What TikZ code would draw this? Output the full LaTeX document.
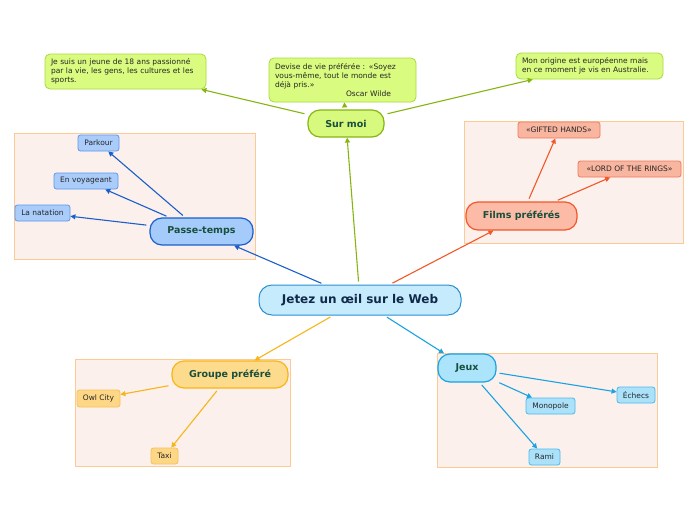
\documentclass[tikz,border=0pt]{standalone}
\usepackage{fontspec}
\setmainfont{DejaVu Sans}
\usetikzlibrary{arrows.meta}

\definecolor{rootfill}{HTML}{C6EBFC}
\definecolor{rootline}{HTML}{2A8FD3}
\definecolor{roottext}{HTML}{10284A}
\definecolor{topictext}{HTML}{184E3C}
\definecolor{notefill}{HTML}{D9FB7F}
\definecolor{noteline}{HTML}{A9D93C}
\definecolor{moifill}{HTML}{D7F97D}
\definecolor{moiline}{HTML}{86B512}
\definecolor{passefill}{HTML}{A5CBFB}
\definecolor{passeline}{HTML}{1B5FCB}
\definecolor{passeleaf}{HTML}{A9CCFB}
\definecolor{passeleafline}{HTML}{5D97E8}
\definecolor{filmsfill}{HTML}{FBBBA6}
\definecolor{filmsline}{HTML}{F2572A}
\definecolor{filmsleaf}{HTML}{F8B5A0}
\definecolor{filmsleafline}{HTML}{EE7A5C}
\definecolor{groupefill}{HTML}{FDDB8C}
\definecolor{groupeline}{HTML}{F7B519}
\definecolor{groupeleaf}{HTML}{FDD785}
\definecolor{groupeleafline}{HTML}{F5C25A}
\definecolor{jeuxfill}{HTML}{ABE4FB}
\definecolor{jeuxline}{HTML}{1AA2E3}
\definecolor{jeuxleaf}{HTML}{ABE2FA}
\definecolor{jeuxleafline}{HTML}{4DB8EA}
\definecolor{boxfill}{HTML}{FCF0EC}
\definecolor{boxline}{HTML}{FCCB94}

\begin{document}
\begin{tikzpicture}[x=1pt,y=-1pt]

% Define block styles
\tikzstyle{root} = [rectangle, rounded corners=13pt, minimum width=202pt, minimum height=30pt, inner sep=0pt, draw=rootline, fill=rootfill, line width=1pt, text=roottext, font=\fontsize{12}{14}\selectfont\bfseries]
\tikzstyle{topic} = [rectangle, rounded corners=12pt, minimum height=27pt, inner sep=0pt, line width=1.2pt, text=topictext, font=\fontsize{9.5}{11}\selectfont\bfseries]
\tikzstyle{leaf} = [rectangle, rounded corners=2.5pt, minimum height=16pt, inner sep=0pt, line width=0.8pt, text=black!85, font=\fontsize{7.5}{9}\selectfont]
\tikzstyle{note} = [rectangle, rounded corners=5pt, inner xsep=6pt, inner ysep=0pt, align=left, fill=notefill, draw=noteline, line width=0.8pt, text=black!85, font=\fontsize{7.5}{9}\selectfont]
\tikzstyle{groupbox} = [fill=boxfill, draw=boxline, line width=1pt]
\tikzstyle{arrow} = [line width=1.1pt, shorten <=3pt, -{Triangle[length=5pt,width=5pt]}]

\useasboundingbox (0,0) rectangle (696,520);

% Group frames
\draw [groupbox] (14,133) rectangle (255,259);
\draw [groupbox] (464,121) rectangle (683,243);
\draw [groupbox] (75,359) rectangle (290,466);
\draw [groupbox] (437,353) rectangle (657,467);

% Define nodes
\node (web) [root] at (360,300) {Jetez un œil sur le Web};
\node (surmoi) [topic, minimum width=76pt, fill=moifill, draw=moiline] at (346,123.5) {Sur moi};
\node (passe) [topic, minimum width=103pt, fill=passefill, draw=passeline] at (201.5,231.5) {Passe-temps};
\node (films) [topic, minimum width=111pt, minimum height=28pt, fill=filmsfill, draw=filmsline] at (521.5,216) {Films préférés};
\node (groupe) [topic, minimum width=116pt, fill=groupefill, draw=groupeline] at (230,374.5) {Groupe préféré};
\node (jeux) [topic, minimum width=58pt, minimum height=28pt, fill=jeuxfill, draw=jeuxline] at (467,368) {Jeux};

\node (apropos) [note, text width=149pt, minimum height=35pt] at (125.5,71.5) {Je suis un jeune de 18 ans passionné\\par la vie, les gens, les cultures et les\\sports.};
\node (devise) [note, text width=135pt, minimum height=44pt] at (342.5,80) {Devise de vie préférée : «Soyez\\vous-même, tout le monde est\\déjà pris.»\\\hspace*{71pt}Oscar Wilde};
\node (origine) [note, text width=135pt, minimum height=26pt] at (589.5,66) {Mon origine est européenne mais\\en ce moment je vis en Australie.};

\node (parkour) [leaf, minimum width=41pt, fill=passeleaf, draw=passeleafline] at (98.5,143) {Parkour};
\node (voyage) [leaf, minimum width=64pt, fill=passeleaf, draw=passeleafline] at (86,181) {En voyageant};
\node (natation) [leaf, minimum width=55pt, fill=passeleaf, draw=passeleafline] at (42.5,213) {La natation};

\node (gifted) [leaf, minimum width=82pt, fill=filmsleaf, draw=filmsleafline] at (559,130) {«GIFTED HANDS»};
\node (lord) [leaf, minimum width=103pt, fill=filmsleaf, draw=filmsleafline] at (629.5,169) {«LORD OF THE RINGS»};

\node (owl) [leaf, minimum width=43pt, minimum height=17pt, fill=groupeleaf, draw=groupeleafline] at (98.5,398.5) {Owl City};
\node (taxi) [leaf, minimum width=27pt, fill=groupeleaf, draw=groupeleafline] at (164.5,456) {Taxi};

\node (monopole) [leaf, minimum width=49pt, fill=jeuxleaf, draw=jeuxleafline] at (550.5,406) {Monopole};
\node (echecs) [leaf, minimum width=38pt, fill=jeuxleaf, draw=jeuxleafline] at (636,395) {Échecs};
\node (rami) [leaf, minimum width=31pt, fill=jeuxleaf, draw=jeuxleafline] at (544.5,457) {Rami};

% Draw arrows
\draw [arrow, draw=moiline] (web) -- (surmoi);
\draw [arrow, draw=passeline] (web) -- (passe);
\draw [arrow, draw=filmsline] (web) -- (films);
\draw [arrow, draw=groupeline] (web) -- (groupe);
\draw [arrow, draw=jeuxline] (web) -- (jeux);

\draw [arrow, draw=moiline] (surmoi) -- (apropos);
\draw [arrow, draw=moiline] (surmoi) -- (devise);
\draw [arrow, draw=moiline] (surmoi) -- (origine);

\draw [arrow, draw=passeline] (passe) -- (parkour);
\draw [arrow, draw=passeline] (passe) -- (voyage);
\draw [arrow, draw=passeline] (passe) -- (natation);

\draw [arrow, draw=filmsline] (films) -- (gifted);
\draw [arrow, draw=filmsline] (films) -- (lord);

\draw [arrow, draw=groupeline] (groupe) -- (owl);
\draw [arrow, draw=groupeline] (groupe) -- (taxi);

\draw [arrow, draw=jeuxline] (jeux) -- (monopole);
\draw [arrow, draw=jeuxline] (jeux) -- (echecs);
\draw [arrow, draw=jeuxline] (jeux) -- (rami);

\end{tikzpicture}
\end{document}
